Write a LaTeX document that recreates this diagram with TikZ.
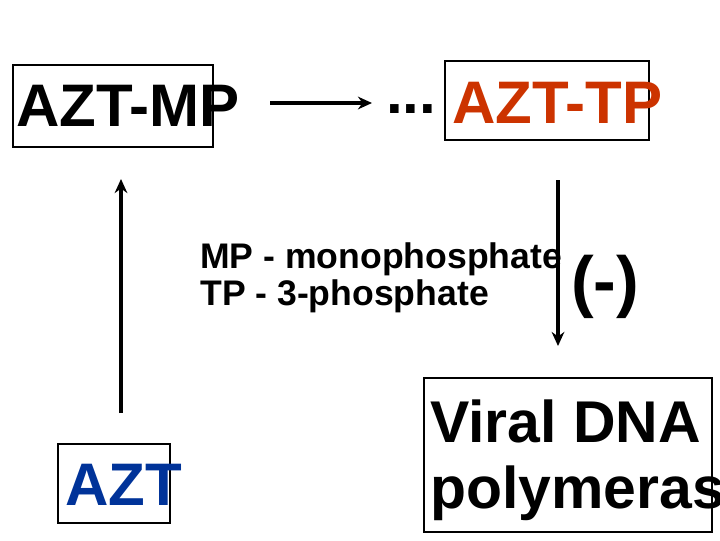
\documentclass[tikz,border=0pt]{standalone}
\usepackage{fontspec}
\setmainfont{Liberation Sans}
\usetikzlibrary{positioning, arrows.meta}
\definecolor{tpred}{RGB}{204,51,0}
\definecolor{aztblue}{RGB}{0,51,153}
\newcommand{\bigfont}{\fontsize{42.7}{48}\selectfont\bfseries}
\newcommand{\legfont}{\fontsize{25.3}{26.3}\selectfont\bfseries}
\newcommand{\minusfont}{\fontsize{48.4}{50}\selectfont\bfseries}

\begin{document}
\begin{tikzpicture}[x=0.025cm, y=-0.025cm,
    frame/.style={draw, line width=1.4pt, inner sep=0pt, anchor=north west},
    word/.style={inner sep=0pt, anchor=base west, font=\bigfont},
    legend/.style={inner sep=0pt, anchor=base west, font=\legfont},
    flow/.style={-{Stealth[length=10pt, width=9pt]}, line width=2.5pt}]
  \useasboundingbox (0,0) rectangle (720,540);

  % Rahmen
  \node[frame, minimum width=5cm, minimum height=2.05cm] (mpbox) at (12,64) {};
  \node[frame, minimum width=5.1cm, minimum height=1.98cm] (tpbox) at (444,60) {};
  \node[frame, minimum width=2.8cm, minimum height=1.98cm] (aztbox) at (57,443) {};
  \node[frame, minimum width=7.2cm, minimum height=3.85cm] (polbox) at (423,377) {};

  % Beschriftungen
  \node[word] (mp) at (16,126) {AZT-MP};
  \node[word] (dots) at (386,113) {...};
  \node[word, text=tpred] (tp) at (452,123) {AZT-TP};
  \node[word, text=aztblue] (azt) at (65,505) {AZT};
  \node[word, font=\fontsize{41.9}{47}\selectfont\bfseries] (viral) at (430,442) {Viral DNA};
  \node[word, font=\fontsize{41.9}{47}\selectfont\bfseries] (pol) at (430,508) {polymerase};

  % Legende
  \node[legend] (legmp) at (200,268) {MP - monophosphate};
  \node[legend] (legtp) at (200,305) {TP - 3-phosphate};
  \node[inner sep=0pt, anchor=base west, font=\minusfont] (minus) at (571,304) {(-)};

  % Pfeile
  \coordinate (mpout) at (270,103);
  \coordinate (tpin) at (372,103);
  \coordinate (aztout) at (121,413);
  \coordinate (mpin) at (121,179);
  \coordinate (tpout) at (558,180);
  \coordinate (polin) at (558,346);
  \draw[flow] (mpout) -- (tpin);
  \draw[flow] (aztout) -- (mpin);
  \draw[flow] (tpout) -- (polin);

\end{tikzpicture}
\end{document}
